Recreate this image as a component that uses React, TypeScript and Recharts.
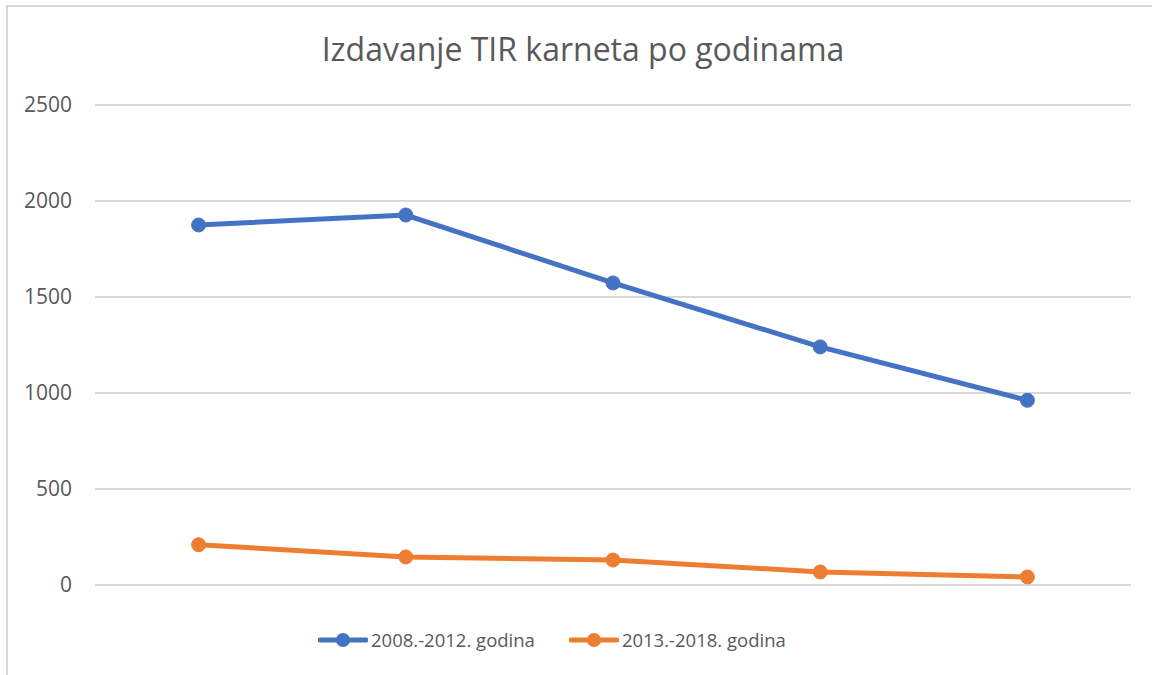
import React from "react";
import { LineChart, Line, XAxis, YAxis, CartesianGrid } from "recharts";

const categories = ["1", "2", "3", "4", "5"];
const series2008_2012 = [1875, 1927, 1573, 1240, 962];
const series2013_2018 = [210, 146, 130, 68, 42];
const yTicks = [0, 500, 1000, 1500, 2000, 2500];
const seriesNames = ["2008.-2012. godina", "2013.-2018. godina"];
const title = "Izdavanje TIR karneta po godinama";

const BLUE = "#4472C4";
const ORANGE = "#ED7D31";
const TEXT = "#595959";
const FONT = "'Open Sans', sans-serif";

const data = categories.map((c, i) => ({
  cat: c,
  a: series2008_2012[i],
  b: series2013_2018[i],
}));

function LegendItem({ color, label }: { color: string; label: string }) {
  return (
    <div style={{ display: "flex", alignItems: "center", marginRight: 34 }}>
      <svg width={50} height={16} style={{ marginRight: 3 }}>
        <line x1={2} y1={8} x2={48} y2={8} stroke={color} strokeWidth={5} strokeLinecap="round" />
        <circle cx={25} cy={8} r={7} fill={color} />
      </svg>
      <span style={{ fontSize: 18.5, color: TEXT, fontFamily: FONT, whiteSpace: "nowrap" }}>{label}</span>
    </div>
  );
}

export default function App() {
  return (
    <div
      style={{
        position: "fixed",
        left: 0,
        top: 0,
        width: 1152,
        height: 675,
        overflow: "hidden",
        background: "#fff",
      }}
    >
      <div
        style={{
          position: "absolute",
          left: 6,
          top: 5,
          width: 1170,
          height: 700,
          borderLeft: "2px solid #d9d9d9",
          borderTop: "2px solid #d9d9d9",
          boxSizing: "border-box",
        }}
      />
      <div
        style={{
          position: "absolute",
          left: 0,
          width: 1166,
          top: 27,
          textAlign: "center",
          fontFamily: FONT,
          fontSize: 32,
          color: TEXT,
          whiteSpace: "nowrap",
        }}
      >
        {title}
      </div>
      <div style={{ position: "absolute", left: 0, top: 0 }}>
        <LineChart
          width={1152}
          height={675}
          data={data}
          margin={{ top: 105, right: 21, bottom: 90, left: 0 }}
        >
          <CartesianGrid vertical={false} stroke="#d9d9d9" strokeWidth={2} />
          <XAxis dataKey="cat" scale="band" tick={false} axisLine={false} tickLine={false} height={0} />
          <YAxis
            width={95}
            domain={[0, 2500]}
            ticks={yTicks}
            axisLine={false}
            tickLine={false}
            tickSize={0}
            tickMargin={23}
            tick={{ fill: TEXT, fontSize: 21, fontFamily: FONT }}
          />
          <Line
            dataKey="a"
            name={seriesNames[0]}
            stroke={BLUE}
            strokeWidth={5}
            dot={{ r: 7, fill: BLUE, stroke: BLUE, strokeWidth: 1 }}
            isAnimationActive={false}
          />
          <Line
            dataKey="b"
            name={seriesNames[1]}
            stroke={ORANGE}
            strokeWidth={5}
            dot={{ r: 7, fill: ORANGE, stroke: ORANGE, strokeWidth: 1 }}
            isAnimationActive={false}
          />
        </LineChart>
      </div>
      <div
        style={{
          position: "absolute",
          left: 318,
          top: 627,
          display: "flex",
          alignItems: "center",
        }}
      >
        <LegendItem color={BLUE} label={seriesNames[0]} />
        <LegendItem color={ORANGE} label={seriesNames[1]} />
      </div>
    </div>
  );
}
